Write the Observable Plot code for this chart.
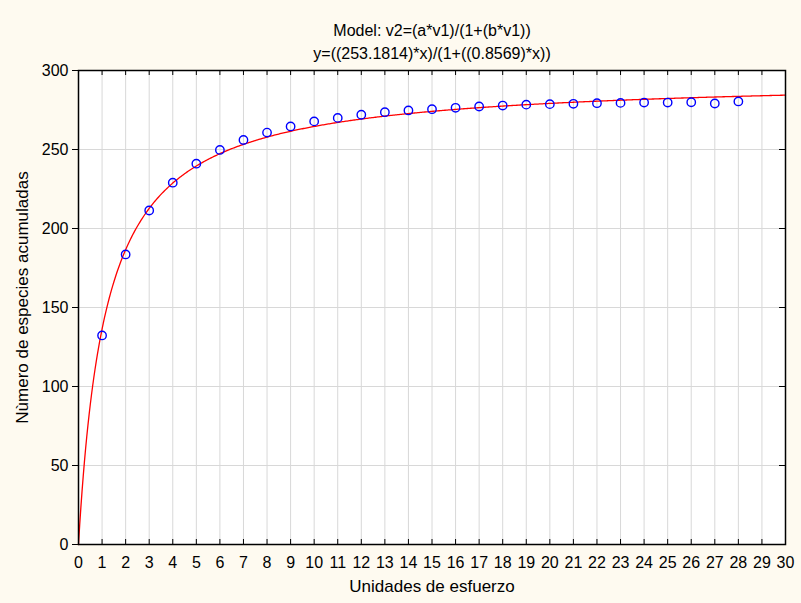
<!DOCTYPE html>
<html>
<head>
<meta charset="utf-8">
<script src="https://cdn.jsdelivr.net/npm/d3@7"></script>
<script src="https://cdn.jsdelivr.net/npm/@observablehq/plot@0.6"></script>
<style>
  html, body { margin: 0; padding: 0; background: #FEFAF0; }
  #chart { width: 801px; height: 603px; }
</style>
</head>
<body>
<div id="chart"></div>
<script>
// Observed data (x = effort units, y = cumulative species)
const effort = [1, 2, 3, 4, 5, 6, 7, 8, 9, 10, 11, 12, 13, 14, 15, 16, 17, 18, 19, 20, 21, 22, 23, 24, 25, 26, 27, 28];
const species = [132.3, 183.6, 211.4, 229, 241, 249.7, 256, 260.7, 264.6, 267.8, 270, 272, 273.6, 274.7, 275.5, 276.4, 277.2, 277.8, 278.4, 278.7, 278.9, 279.3, 279.5, 279.7, 279.7, 279.9, 279.1, 280.4];

// Fitted model parameters (from the chart title)
const paramA = 253.1814;
const paramB = 0.8569;

const xTicks = d3.range(0, 31);
const yTicks = [0, 50, 100, 150, 200, 250, 300];
const titleLines = ["Model: v2=(a*v1)/(1+(b*v1))", "y=((253.1814)*x)/(1+((0.8569)*x))"];
const xLabel = "Unidades de esfuerzo";
const yLabel = "Nùmero de especies acumuladas";

const points = effort.map((x, i) => ({x, y: species[i]}));
const curve = d3.range(0, 30.0001, 0.05).map(x => ({x, y: (paramA * x) / (1 + paramB * x)}));

const W = 801, H = 603;
const mL = 78, mR = 16, mT = 70, mB = 59;
const fw = W - mL - mR, fh = H - mT - mB;

const chart = Plot.plot({
  width: W,
  height: H,
  marginLeft: mL,
  marginRight: mR,
  marginTop: mT,
  marginBottom: mB,
  style: {background: "#FEFAF0", fontFamily: "'Liberation Sans', Arial, sans-serif", fontSize: "16px", color: "black"},
  x: {domain: [0, 30], axis: null},
  y: {domain: [0, 300], axis: null},
  marks: [
    Plot.frame({fill: "white", stroke: "none"}),
    Plot.ruleX(xTicks.slice(1, -1), {stroke: "#d8d8d8", strokeWidth: 1}),
    Plot.ruleY(yTicks.slice(1, -1), {stroke: "#d8d8d8", strokeWidth: 1}),
    // inward ticks: bottom and top
    Plot.tickX(xTicks, {x: d => d, insetTop: fh - 5, stroke: "black"}),
    Plot.tickX(xTicks, {x: d => d, insetBottom: fh - 5, stroke: "black"}),
    // inward ticks: right
    Plot.tickY(yTicks, {y: d => d, insetLeft: fw - 6, stroke: "black"}),
    Plot.axisX(xTicks, {tickSize: 0, tickPadding: 12, tickFormat: d => String(d), label: null, fontSize: 16}),
    Plot.axisY(yTicks, {tickSize: 6, tickPadding: 4, tickFormat: d => String(d), label: null, fontSize: 16}),
    Plot.line(curve, {x: "x", y: "y", stroke: "#ff0000", strokeWidth: 1.3}),
    Plot.dot(points, {x: "x", y: "y", r: 4.2, stroke: "#0000ff", fill: "none", strokeWidth: 1.4}),
    Plot.frame({stroke: "black", strokeWidth: 1.5}),
    Plot.text([titleLines[0]], {frameAnchor: "top", dy: -46, text: d => d, fontSize: 16}),
    Plot.text([titleLines[1]], {frameAnchor: "top", dy: -23, text: d => d, fontSize: 16}),
    Plot.text([xLabel], {frameAnchor: "bottom", dy: 47, text: d => d, fontSize: 17}),
    Plot.text([yLabel], {frameAnchor: "left", textAnchor: "middle", dx: -56, dy: -10, rotate: -90, text: d => d, fontSize: 17})
  ]
});
document.getElementById("chart").append(chart);
</script>
</body>
</html>
